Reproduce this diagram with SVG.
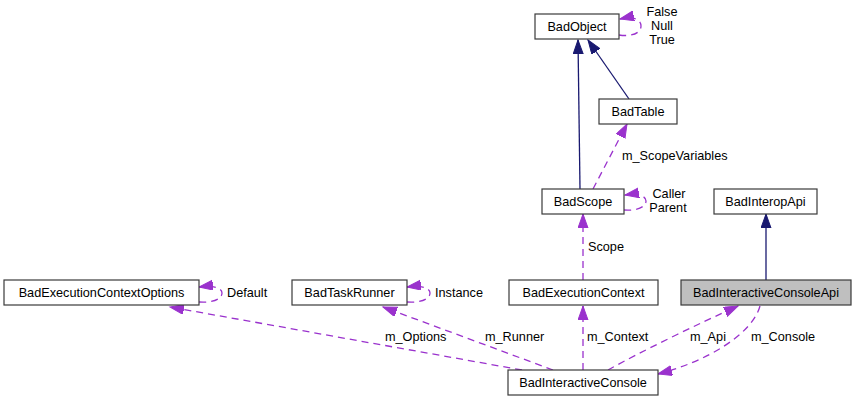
<svg xmlns="http://www.w3.org/2000/svg" width="856" height="401" viewBox="0 0 856 401">
<style>
text{font-family:"Liberation Sans",Arial,sans-serif;font-size:12.7px;fill:#000}
.node rect{fill:#fff;stroke:#3a3a3a;stroke-width:1.2}
.node text{text-anchor:middle}
.inh{fill:none;stroke:#191970;stroke-width:1.3}
.use{fill:none;stroke:#9a32cd;stroke-width:1.3;stroke-dasharray:7,5}
.lbl{text-anchor:middle}
</style>
<defs>
<marker id="ai" markerUnits="userSpaceOnUse" markerWidth="16" markerHeight="12" refX="14" refY="5" orient="auto">
<path d="M0,0 L14,5 L0,10 z" fill="#191970" stroke="#191970"/>
</marker>
<marker id="au" markerUnits="userSpaceOnUse" markerWidth="16" markerHeight="12" refX="14" refY="5" orient="auto">
<path d="M0,0 L14,5 L0,10 z" fill="#9a32cd" stroke="#9a32cd"/>
</marker>
</defs>
<rect width="856" height="401" fill="#fff"/>
<g id="connectors">
<path class="inh" d="M580,189 L578,40" marker-end="url(#ai)"/>
<path class="inh" d="M629,99 L588,40" marker-end="url(#ai)"/>
<path class="inh" d="M766,280 L766,214" marker-end="url(#ai)"/>
<path class="use" d="M619,35 C632,37 641,33 641,26 C641,19 633,16 620,19" marker-end="url(#au)"/>
<path class="use" d="M593,189 L627,124" marker-end="url(#au)"/>
<path class="use" d="M624,210 C637,211 646,207 646,201 C646,196 638,193 625,195" marker-end="url(#au)"/>
<path class="use" d="M583,280 L583,214" marker-end="url(#au)"/>
<path class="use" d="M199,302 C213,303 222,299 222,293 C222,288 214,285 199,287" marker-end="url(#au)"/>
<path class="use" d="M407,302 C421,303 430,299 430,293 C430,288 422,285 407,287" marker-end="url(#au)"/>
<path class="use" d="M583,370 L583,306" marker-end="url(#au)"/>
<path class="use" d="M522,370 L170,307" marker-end="url(#au)"/>
<path class="use" d="M553,370 L383,307" marker-end="url(#au)"/>
<path class="use" d="M608,370 C640,352 700,323 738,306" marker-end="url(#au)"/>
<path class="use" d="M760,306 C752,335 705,362 658,374" marker-end="url(#au)"/>
</g>
<g id="labels">
<text class="lbl" x="662" y="16">False</text>
<text class="lbl" x="662" y="30">Null</text>
<text class="lbl" x="662" y="44">True</text>
<text x="622" y="160">m_ScopeVariables</text>
<text class="lbl" x="669" y="198">Caller</text>
<text class="lbl" x="668" y="212">Parent</text>
<text x="588" y="251">Scope</text>
<text x="227" y="297">Default</text>
<text x="435" y="297">Instance</text>
<text x="385" y="341">m_Options</text>
<text x="485" y="341">m_Runner</text>
<text x="587" y="341">m_Context</text>
<text x="690" y="341">m_Api</text>
<text x="751" y="341">m_Console</text>
</g>
<g id="BadObject" class="node"><rect x="535" y="14" width="84" height="25"/><text x="577" y="31">BadObject</text></g>
<g id="BadTable" class="node"><rect x="599" y="99" width="78" height="25"/><text x="638" y="116">BadTable</text></g>
<g id="BadScope" class="node"><rect x="542" y="189" width="82" height="25"/><text x="583" y="206">BadScope</text></g>
<g id="BadInteropApi" class="node"><rect x="714" y="189" width="103" height="25"/><text x="765.5" y="206">BadInteropApi</text></g>
<g id="BadExecutionContextOptions" class="node"><rect x="4" y="280" width="195" height="25"/><text x="101.5" y="297">BadExecutionContextOptions</text></g>
<g id="BadTaskRunner" class="node"><rect x="292" y="280" width="115" height="25"/><text x="349.5" y="297">BadTaskRunner</text></g>
<g id="BadExecutionContext" class="node"><rect x="509" y="280" width="149" height="25"/><text x="583.5" y="297">BadExecutionContext</text></g>
<g id="BadInteractiveConsoleApi" class="node"><rect x="681" y="280" width="170" height="25" style="fill:#bfbfbf"/><text x="766" y="297">BadInteractiveConsoleApi</text></g>
<g id="BadInteractiveConsole" class="node"><rect x="508" y="370" width="150" height="25"/><text x="583" y="387">BadInteractiveConsole</text></g>
</svg>
